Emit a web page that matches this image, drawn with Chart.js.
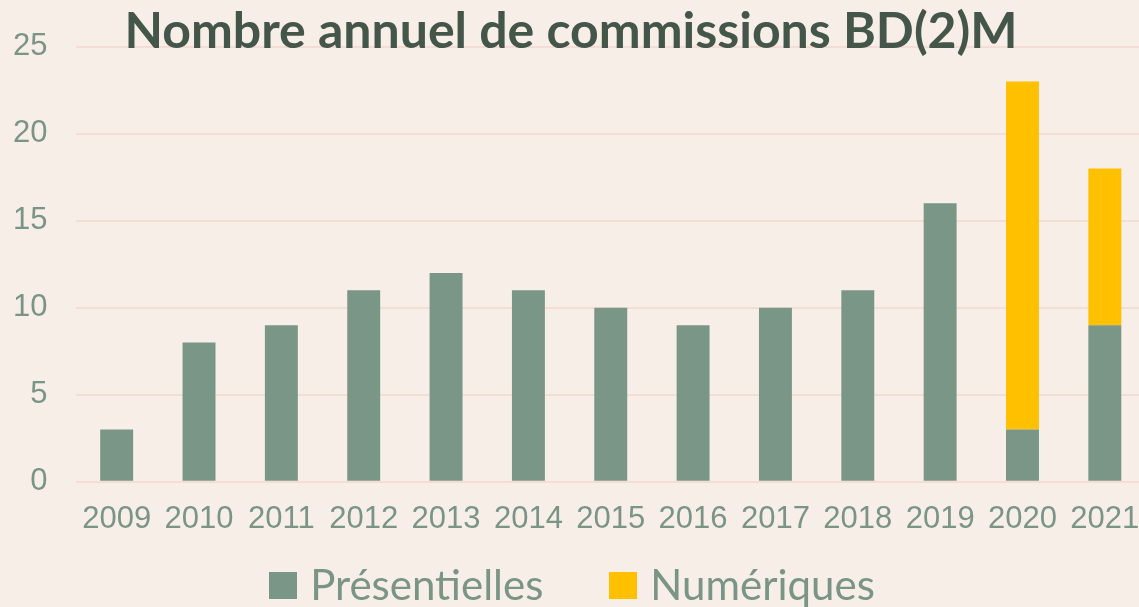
<!DOCTYPE html>
<html lang="fr">
<head>
<meta charset="utf-8">
<title>Nombre annuel de commissions BD(2)M</title>
<script src="https://cdn.jsdelivr.net/npm/chart.js@4/dist/chart.umd.min.js"></script>
<style>
  html, body { margin: 0; padding: 0; background: #f7eee8; overflow: hidden; }
  #wrap { position: relative; width: 1150px; height: 607px; overflow: hidden; }
  #legend {
    position: absolute; left: 0; top: 563px; width: 1144px;
    display: flex; justify-content: center; gap: 66px;
    font: 42px/42px Lato, 'Open Sans', sans-serif; color: #7a9585;
  }
  #legend .item { display: flex; align-items: flex-start; white-space: nowrap; }
  #legend .box  { width: 28px; height: 27px; margin: 9px 13px 0 0; flex: none; }
</style>
</head>
<body>
<div id="wrap">
  <canvas id="chart" width="1150" height="607"></canvas>
  <div id="legend"></div>
</div>
<script>
// Nombre annuel de commissions BD(2)M — barres empilées

const years         = ['2009','2010','2011','2012','2013','2014','2015','2016','2017','2018','2019','2020','2021'];
const presentielles = [3, 8, 9, 11, 12, 11, 10, 9, 10, 11, 16, 3, 9];
const numeriques    = [0, 0, 0, 0, 0, 0, 0, 0, 0, 0, 0, 20, 9];
const yTicks        = [0, 5, 10, 15, 20, 25];

const C = {
  bg:     '#f7eee8',
  grid:   '#f3ddd5',
  green:  '#7a9686',
  yellow: '#ffc000',
  label:  '#7a9585',
  title:  '#44554a',
};

// titre dessiné par-dessus la zone du graphique (il chevauche la ligne 25)
const titlePlugin = {
  id: 'overTitle',
  afterDraw(chart) {
    const ctx = chart.ctx;
    ctx.save();
    ctx.font = "bold 50px Lato, 'Open Sans', sans-serif";
    ctx.fillStyle = C.title;
    ctx.textAlign = 'center';
    ctx.textBaseline = 'alphabetic';
    ctx.fillText('Nombre annuel de commissions BD(2)M', 571, 48);
    ctx.restore();
  }
};

// légende HTML (espacement libre, indépendant de la hauteur de l'axe X)
const htmlLegend = {
  id: 'htmlLegend',
  afterUpdate(chart) {
    const el = document.getElementById('legend');
    el.innerHTML = '';
    const items = Chart.defaults.plugins.legend.labels.generateLabels(chart);
    items.forEach(it => {
      const item = document.createElement('span');
      item.className = 'item';
      const box = document.createElement('span');
      box.className = 'box';
      box.style.background = it.fillStyle;
      const txt = document.createElement('span');
      txt.textContent = it.text;
      item.appendChild(box);
      item.appendChild(txt);
      el.appendChild(item);
    });
  }
};

new Chart(document.getElementById('chart'), {
  type: 'bar',
  data: {
    labels: years,
    datasets: [
      {
        label: 'Présentielles',
        data: presentielles,
        backgroundColor: C.green,
        borderWidth: 0,
        barPercentage: 0.4,
        categoryPercentage: 1,
      },
      {
        label: 'Numériques',
        data: numeriques,
        backgroundColor: C.yellow,
        borderWidth: 0,
        barPercentage: 0.4,
        categoryPercentage: 1,
      }
    ]
  },
  options: {
    responsive: false,
    animation: false,
    devicePixelRatio: 1,
    layout: { padding: { left: 13, right: 4, top: 26, bottom: 50 } },
    plugins: {
      title: { display: false },
      tooltip: { enabled: false },
      legend: { display: false }
    },
    scales: {
      x: {
        stacked: true,
        grid: { display: false, drawTicks: false },
        border: { display: false },
        ticks: {
          color: C.label,
          font: { family: "'Liberation Sans', Arial, sans-serif", size: 31 },
          padding: 19,
          maxRotation: 0,
          autoSkip: false,
        },
        afterFit: s => { s.paddingLeft = 0; s.paddingRight = 0; }
      },
      y: {
        stacked: true,
        min: 0,
        max: 25,
        afterBuildTicks: axis => { axis.ticks = yTicks.map(v => ({ value: v })); },
        grid: { color: C.grid, lineWidth: 2, drawTicks: false },
        border: { display: false },
        ticks: {
          color: C.label,
          font: { family: "'Liberation Sans', Arial, sans-serif", size: 31 },
          padding: 28,
        },
        afterFit: s => { s.width = 62.5; }
      }
    }
  },
  plugins: [titlePlugin, htmlLegend]
});
</script>
</body>
</html>
